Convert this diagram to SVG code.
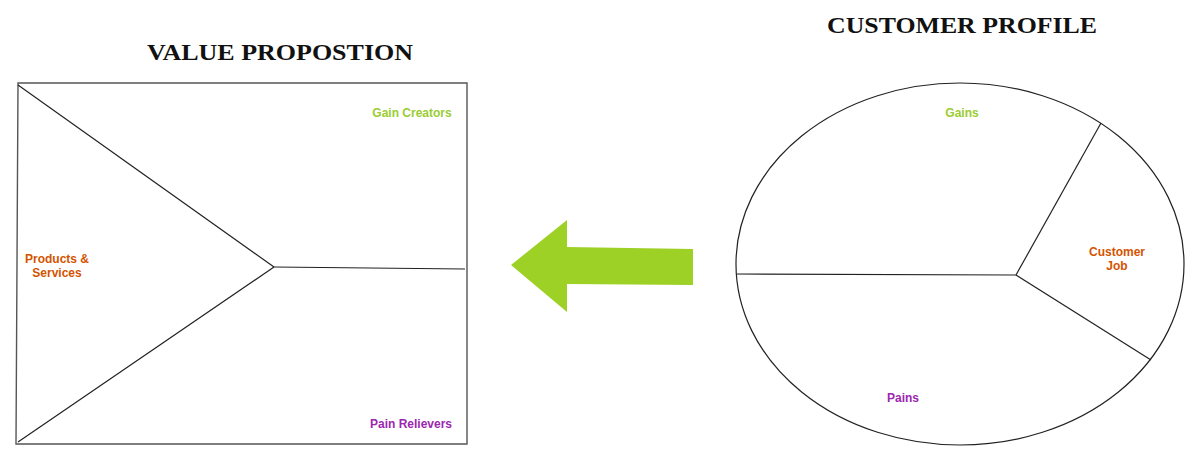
<svg xmlns="http://www.w3.org/2000/svg" width="1200" height="460" viewBox="0 0 1200 460">
<style>
.title{font-family:"Liberation Serif",serif;font-weight:bold;font-size:24px;fill:#111;}
.lbl{font-family:"Liberation Sans",Arial,sans-serif;font-weight:bold;font-size:12px;text-anchor:middle;}
.green{fill:#9ACD32;}
.orange{fill:#D35400;}
.purple{fill:#9C27B0;}
.edge{fill:none;stroke:#222;stroke-width:1.2;}
</style>
<rect width="1200" height="460" fill="#fff"/>
<text class="title" x="280" y="60" text-anchor="middle" textLength="266" lengthAdjust="spacingAndGlyphs">VALUE PROPOSTION</text>
<text class="title" x="962" y="33" text-anchor="middle" textLength="270" lengthAdjust="spacingAndGlyphs">CUSTOMER PROFILE</text>
<g id="value-proposition">
<polygon points="18,83 467,83 467,444 16,444" fill="#fff" stroke="#555" stroke-width="1.4"/>
</g>
<g id="customer-profile">
<ellipse cx="960" cy="264" rx="224" ry="181" fill="#fff" stroke="#222" stroke-width="1.2"/>
</g>
<g id="connectors">
<line class="edge" x1="18" y1="85" x2="274" y2="267"/>
<line class="edge" x1="274" y1="267" x2="465" y2="269"/>
<line class="edge" x1="274" y1="267" x2="18" y2="442"/>
<line class="edge" x1="737" y1="274" x2="1016" y2="275"/>
<line class="edge" x1="1016" y1="275" x2="1101" y2="123"/>
<line class="edge" x1="1016" y1="275" x2="1151" y2="360"/>
</g>
<g id="arrow">
<polygon points="511,265 567,220 567,247 693,249 693,285 567,284 567,312" fill="#9ED126"/>
</g>
<g id="gain-creators"><text class="lbl green" x="412" y="117">Gain Creators</text></g>
<g id="products-services"><text class="lbl orange" x="57" y="263">Products &amp;</text><text class="lbl orange" x="57" y="277">Services</text></g>
<g id="pain-relievers"><text class="lbl purple" x="411" y="428">Pain Relievers</text></g>
<g id="gains"><text class="lbl green" x="962" y="117">Gains</text></g>
<g id="customer-job"><text class="lbl orange" x="1117" y="256">Customer</text><text class="lbl orange" x="1117" y="270">Job</text></g>
<g id="pains"><text class="lbl purple" x="903" y="402">Pains</text></g>
</svg>
